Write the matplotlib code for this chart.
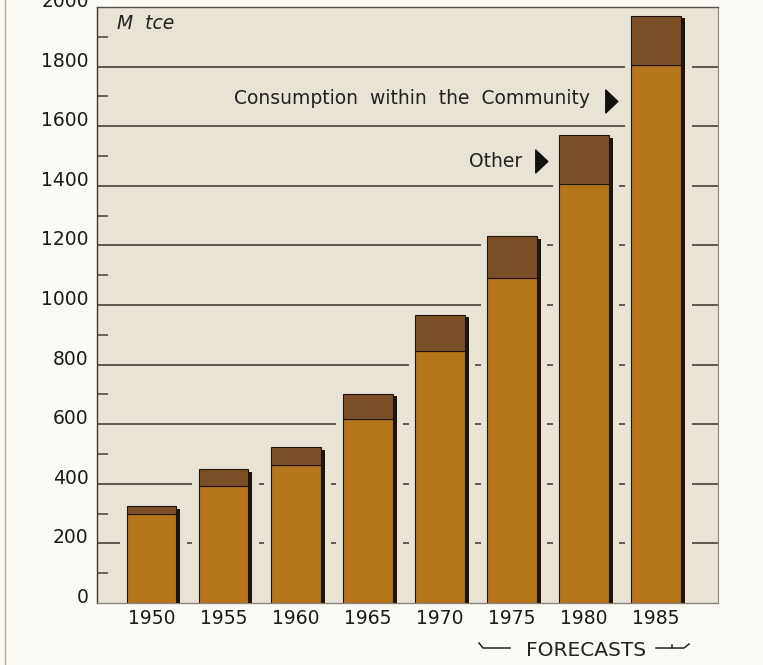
import matplotlib
matplotlib.use("Agg")
import matplotlib.pyplot as plt
from matplotlib.ticker import MultipleLocator
from matplotlib.lines import Line2D
from matplotlib.path import Path
import numpy as np

years = ["1950", "1955", "1960", "1965", "1970", "1975", "1980", "1985"]
total = [324, 448, 522, 703, 967, 1231, 1569, 1971]
community = [298, 391, 462, 619, 846, 1091, 1405, 1807]
other = [t - c for t, c in zip(total, community)]
yticks = [0, 200, 400, 600, 800, 1000, 1200, 1400, 1600, 1800, 2000]

W, H = 763, 665
bg_fig = "#FBFAF4"
bg_ax = "#E9E3D6"
c_comm = "#B5761B"
c_other = "#7B5026"
c_dark = "#1E140C"
c_grid = "#45423A"
fs = 13.5

plt.rcParams['font.family'] = ['DejaVu Sans']

fig = plt.figure(figsize=(W / 100, H / 100), dpi=100, facecolor=bg_fig)
ax = fig.add_axes([97 / W, 1 - 603 / H, (718 - 97) / W, (603 - 7) / H])
ax.set_facecolor(bg_ax)

x = np.arange(len(years))
w = 0.69
dx = 0.055
pad = 0.09

for v in yticks[1:-1]:
    ax.axhline(v, color=c_grid, lw=1.2, zorder=1)

# gaps around bars
ax.bar(x + dx / 2, total, width=w + dx + 2 * pad, color=bg_ax, zorder=2, linewidth=0)
# shadow
ax.bar(x + dx, np.array(total) - 8, width=w, color=c_dark, zorder=3, linewidth=0)
# stacked bars
ax.bar(x, community, width=w, color=c_comm, edgecolor=c_dark, linewidth=0.8, zorder=4)
ax.bar(x, other, bottom=community, width=w, color=c_other, edgecolor=c_dark, linewidth=0.8, zorder=4)

ax.set_xlim(-0.756, 7.857)
ax.set_ylim(0, 1994)
ax.set_xticks(x)
ax.set_xticklabels(years, fontsize=fs, color="#1a1a1a")
ax.set_yticks(yticks)
ax.set_yticklabels([str(v) for v in yticks], fontsize=fs, color="#1a1a1a")
for lab in ax.get_yticklabels():
    lab.set_va('baseline')
ax.tick_params(axis='both', which='major', length=0, pad=6)
ax.tick_params(axis='x', pad=4)
ax.yaxis.set_minor_locator(MultipleLocator(100))
ax.tick_params(axis='y', which='minor', direction='in', length=8, width=1.1, color=c_grid)

ax.spines['left'].set_color("#3a372f")
ax.spines['left'].set_linewidth(1.0)
ax.spines['top'].set_color("#55524a")
ax.spines['top'].set_linewidth(1.0)
ax.spines['right'].set_color("#8a877f")
ax.spines['right'].set_linewidth(0.8)
ax.spines['bottom'].set_color("#8a877f")
ax.spines['bottom'].set_linewidth(1.0)

tri = Path([(-0.5, -1), (-0.5, 1), (0.55, 0), (-0.5, -1)],
           [Path.MOVETO, Path.LINETO, Path.LINETO, Path.CLOSEPOLY])

ax.text(-0.48, 1944, "M  tce", fontsize=fs, style='italic', ha='left', va='center', color="#222")
ax.text(6.08, 1693, "Consumption  within  the  Community", fontsize=fs, ha='right', va='center', color="#222", zorder=6)
ax.plot([6.37], [1686], marker=tri, markersize=16.5, color="#111", zorder=6, linestyle='none')
ax.text(5.14, 1482, "Other", fontsize=fs, ha='right', va='center', color="#222", zorder=6)
ax.plot([5.40], [1482], marker=tri, markersize=16.5, color="#111", zorder=6, linestyle='none')

# FORECASTS label with brackets (figure pixel coordinates)
def fx(px):
    return px / W

def fy(py):
    return 1 - py / H

fig.text(fx(586), fy(651), "FORECASTS", fontsize=14.5, ha='center', va='center', color="#222")
fig.add_artist(Line2D([fx(479), fx(483), fx(510)], [fy(643), fy(648), fy(648)], color="#222", lw=1.1))
fig.add_artist(Line2D([fx(656), fx(684), fx(689)], [fy(648), fy(648), fy(644)], color="#222", lw=1.1))
fig.add_artist(Line2D([fx(672), fx(672)], [fy(645), fy(648)], color="#222", lw=1.1))

# page edge line
fig.add_artist(Line2D([fx(5), fx(5)], [fy(0), fy(665)], color="#b9b0a0", lw=1.0))

fig.savefig("out.png", dpi=100, facecolor=bg_fig)
